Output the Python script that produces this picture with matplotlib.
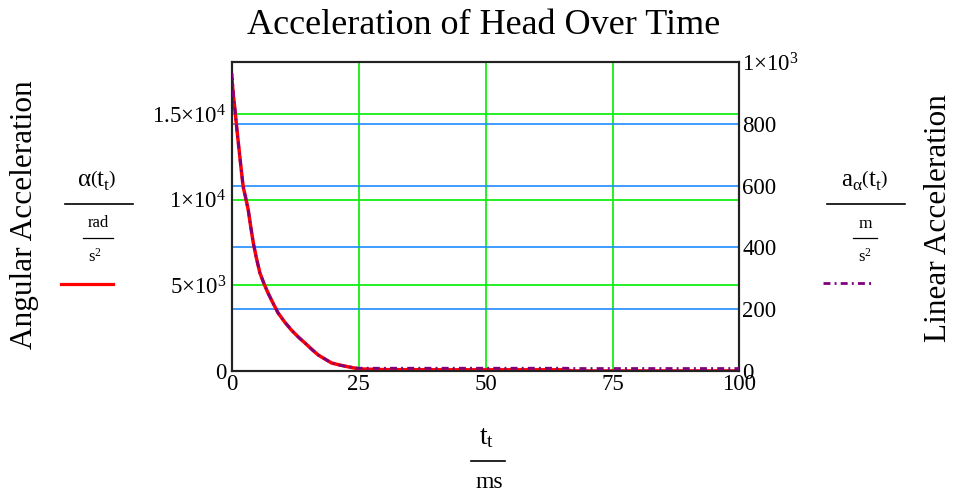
import matplotlib
matplotlib.use("Agg")
import matplotlib.pyplot as plt
from matplotlib.lines import Line2D
from matplotlib.transforms import blended_transform_factory

plt.rcParams['font.family'] = ['Liberation Serif', 'DejaVu Serif']
plt.rcParams['mathtext.fontset'] = 'custom'
plt.rcParams['mathtext.rm'] = 'Liberation Serif'
plt.rcParams['mathtext.it'] = 'Liberation Serif'
plt.rcParams['mathtext.bf'] = 'Liberation Serif:bold'

# ---- data ----
time_ms = [0, 0.3, 0.6, 1.0, 1.4, 1.8, 2.2, 2.7, 3.2, 3.7, 4.2, 4.8, 5.5, 6.3,
           7.1, 8.1, 9.1, 10.4, 11.7, 13.0, 14.4, 15.7, 17.0, 18.3, 19.6,
           21.2, 22.8, 25, 30, 40, 50, 60, 66, 67, 80, 90, 100]
angular_acc = [17000, 16000, 15200, 14000, 12900, 11800, 10750, 10100, 9400,
               8400, 7470, 6600, 5720, 5100, 4550, 3950, 3380, 2850, 2390,
               2000, 1630, 1270, 930, 700, 470, 350, 250, 120, 80, 70, 70,
               70, 70, 5, 5, 5, 5]
linear_acc = [964, 887, 843, 776, 715, 654, 596, 560, 521, 466, 414, 366,
              317, 283, 252, 219, 187, 158, 133, 111, 90, 70, 52, 39, 26,
              19, 14, 9, 9, 9, 9, 9, 9, 8, 8, 8, 8]

x_ticks = [0, 25, 50, 75, 100]
x_tick_labels = ['0', '25', '50', '75', '100']
left_ticks = [0, 5000, 10000, 15000]
left_tick_labels = ['0', '5×10$^{3}$', '1×10$^{4}$', '1.5×10$^{4}$']
right_ticks = [0, 200, 400, 600, 800, 1000]
right_tick_labels = ['0', '200', '400', '600', '800', '1×10$^{3}$']

title = 'Acceleration of Head Over Time'
left_name = 'Angular Acceleration'
right_name = 'Linear Acceleration'

W, H = 954, 494
fig = plt.figure(figsize=(W / 100, H / 100), dpi=100)

def P(x, y):
    return (x / W, 1 - y / H)

L, R, T, B = 232, 739.5, 62, 371
ax = fig.add_axes([L / W, 1 - B / H, (R - L) / W, (B - T) / H])
ax2 = ax.twinx()

GREEN = '#00ee00'
BLUE = '#1e8cff'
RED = '#ff0000'
PURPLE = '#7f007f'

ax.set_xlim(0, 100)
ax.set_ylim(0, 18030)
ax2.set_ylim(0, 1000)

ax.set_axisbelow(True)
ax.grid(True, axis='both', color=GREEN, lw=1.2, zorder=0)
ax2.grid(False)
bt = blended_transform_factory(ax.transAxes, ax2.transData)
for v in right_ticks[1:-1]:
    ax.plot([0, 1], [v, v], transform=bt, color=BLUE, lw=1.2, zorder=0.6)

ax.plot(time_ms, angular_acc, color=RED, lw=2.5, zorder=2)
ax2.plot(time_ms, linear_acc, color=PURPLE, lw=2.0,
         dashes=(2.5, 1.5, 0.7, 1.5), zorder=3)

ax.set_xticks(x_ticks)
ax.set_xticklabels(x_tick_labels)
ax.set_yticks(left_ticks)
ax.set_yticklabels(left_tick_labels)
ax2.set_yticks(right_ticks)
ax2.set_yticklabels(right_tick_labels)

ax.tick_params(axis='both', length=0, labelsize=16.5)
ax.tick_params(axis='x', pad=2)
ax.tick_params(axis='y', pad=4)
ax2.tick_params(axis='y', length=0, labelsize=16.5, pad=2)

for a in (ax, ax2):
    for s in a.spines.values():
        s.set_color('#222222')
        s.set_linewidth(1.5)

fig.text(*P(484, 25), title, ha='center', va='center', fontsize=26)

# left label
fig.text(*P(25, 215), left_name, ha='center', va='center', rotation=90, fontsize=22.5)
fig.text(*P(97, 181), r'$\alpha\left(t_{t}\right)$', ha='center', va='center', fontsize=18)
fig.add_artist(Line2D([65 / W, 133 / W], [1 - 204 / H] * 2, color='black', lw=1.2))
fig.text(*P(98, 223), 'rad', ha='center', va='center', fontsize=12)
fig.add_artist(Line2D([83 / W, 113 / W], [1 - 238 / H] * 2, color='black', lw=0.9))
fig.text(*P(95, 257), 's$^{2}$', ha='center', va='center', fontsize=12)
fig.add_artist(Line2D([61 / W, 113 / W], [1 - 284 / H] * 2, color=RED, lw=2.3))

# right label
fig.text(*P(939, 218), right_name, ha='center', va='center', rotation=90, fontsize=22.5)
fig.text(*P(865, 181), r'$a_{\alpha}\left(t_{t}\right)$', ha='center', va='center', fontsize=18)
fig.add_artist(Line2D([827 / W, 905 / W], [1 - 204 / H] * 2, color='black', lw=1.2))
fig.text(*P(865, 224), 'm', ha='center', va='center', fontsize=12.5)
fig.add_artist(Line2D([853 / W, 877 / W], [1 - 238 / H] * 2, color='black', lw=0.9))
fig.text(*P(865, 257), 's$^{2}$', ha='center', va='center', fontsize=12)
fig.add_artist(Line2D([823 / W, 873 / W], [1 - 283 / H] * 2, color=PURPLE, lw=2.0,
                      dashes=(2.5, 1.5, 0.7, 1.5)))

# x label
fig.text(*P(487, 438), r'$t_{t}$', ha='center', va='center', fontsize=20)
fig.add_artist(Line2D([471 / W, 505 / W], [1 - 461 / H] * 2, color='black', lw=1.2))
fig.text(*P(489, 482), 'ms', ha='center', va='center', fontsize=17)

fig.savefig('out.png', dpi=100)
